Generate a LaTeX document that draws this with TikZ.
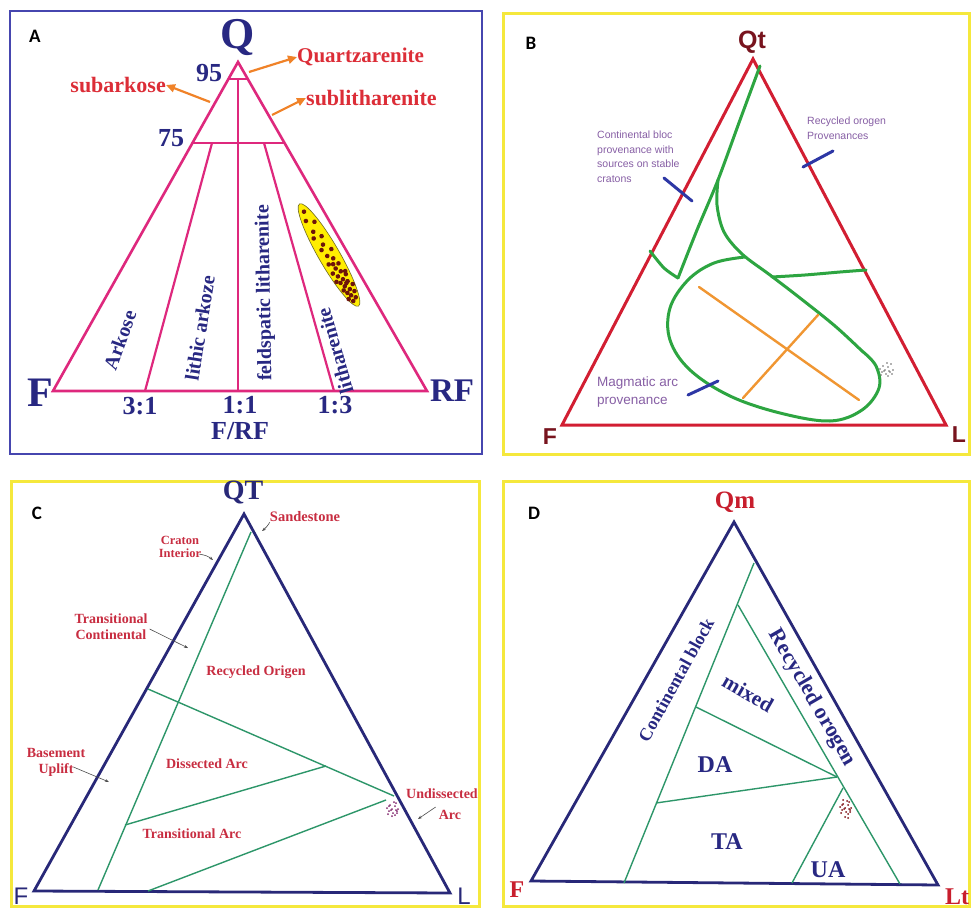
\documentclass[tikz,border=0pt]{standalone}
\usepackage{fontspec}
\setmainfont{Liberation Serif}
\newfontfamily\sansf{Liberation Sans}
\newfontfamily\carl{Carlito}
\usetikzlibrary{arrows.meta}
\definecolor{frameA}{RGB}{70,70,175}
\definecolor{magA}{RGB}{222,40,125}
\definecolor{navyA}{RGB}{40,40,130}
\definecolor{redA}{RGB}{220,45,55}
\definecolor{orA}{RGB}{240,130,40}
\definecolor{yel}{RGB}{245,232,60}
\definecolor{redB}{RGB}{210,30,50}
\definecolor{darkredB}{RGB}{120,20,30}
\definecolor{greenB}{RGB}{45,165,65}
\definecolor{orB}{RGB}{240,150,50}
\definecolor{blueB}{RGB}{45,55,165}
\definecolor{purB}{RGB}{135,95,165}
\definecolor{navyC}{RGB}{40,40,120}
\definecolor{tealC}{RGB}{45,150,105}
\definecolor{redC}{RGB}{200,45,65}
\definecolor{redD}{RGB}{200,30,45}
\definecolor{dotA}{RGB}{110,20,10}
\definecolor{dotP}{RGB}{130,40,110}
\newcommand{\fsz}[1]{\fontsize{#1}{#1}\selectfont}
\begin{document}
\begin{tikzpicture}[x=1pt,y=-1pt,
  panellab/.style={font=\carl\bfseries\fsz{19}, text=black, inner sep=0},
  triA/.style={magA, line width=2.6, line join=miter},
  txtA/.style={text=navyA, font=\bfseries\fsz{#1}, inner sep=0},
  redlabA/.style={text=redA, font=\bfseries\fsz{#1}, inner sep=0},
  orarrow/.style={orA, line width=2.2, -{Triangle[length=9pt,width=8pt]}},
  triB/.style={redB, line width=3, line join=miter},
  grn/.style={greenB, line width=3, line cap=round, line join=round},
  orln/.style={orB, line width=2.4, line cap=round},
  tick/.style={blueB, line width=3, line cap=round},
  purtxt/.style={text=purB, font=\sansf\fsz{#1}, inner sep=0, align=left},
  triC/.style={navyC, line width=2.8, line join=miter},
  tln/.style={tealC, line width=1.4},
  redtxt/.style={text=redC, font=\bfseries\fsz{#1}, inner sep=0, align=center},
  smallarr/.style={black!70, line width=0.6, -{Stealth[length=4pt,width=3pt]}},
  txtD/.style={text=navyA, font=\bfseries\fsz{#1}, inner sep=0},
]
\useasboundingbox (0,0) rectangle (971,909);
\fill[white] (0,0) rectangle (971,909);

% ---------------- frames
\draw[frameA, line width=2] (10,11) rectangle (482,454);
\draw[yel, line width=3] (503,14) rectangle (969,454);
\draw[yel, line width=3] (11,481) rectangle (479,906);
\draw[yel, line width=3] (503,481) rectangle (969,906);

% ================= PANEL A
\node[panellab] (labA) at (35,36) {A};
\coordinate (AQ) at (238,62);
\coordinate (AF) at (53,391);
\coordinate (ARF) at (427,391);
\coordinate (A95l) at (228.4,79);
\coordinate (A95r) at (247.8,79);
\coordinate (A95m) at (238,79);
\coordinate (A75l) at (192.5,143);
\coordinate (A75r) at (284.5,143);
\coordinate (A75a) at (212,143);
\coordinate (A75b) at (264,143);
\coordinate (A31) at (145,391);
\coordinate (A11) at (238,391);
\coordinate (A13) at (334,391);
\draw[triA] (AQ) -- (AF) -- (ARF) -- cycle;
\draw[magA, line width=2.2] (A95l) -- (A95r);
\draw[magA, line width=2.2] (A75l) -- (A75r);
\draw[magA, line width=2.2] (A95m) -- (A11);
\draw[magA, line width=2.2] (A75a) -- (A31);
\draw[magA, line width=2.2] (A75b) -- (A13);
% ellipse with points
\begin{scope}[shift={(329,255)}, rotate=-60]
  \draw[fill=yellow!95!orange, draw=olive!70!black, line width=0.6] (0,0) ellipse [x radius=59, y radius=10.5];
  \foreach \u/\v in {-50/0,-41/3,-36/-4,-28/2,-22/5,-20/-3,-12/0,-8/4,-4/-5,0/2,5/-2,8/5,12/-4,15/1,18/6,20/-2,23/3,25/-5,28/0,30/4,32/-3,35/2,37/-6,38/5,40/-1,42/3,44/-4,46/1,48/5,50/-2,52/2,27/7,33/-1,22/-6,10/1}
    \fill[dotA] (\u,\v) circle (2.3);
\end{scope}
\node[txtA=44] (Qa) at (238,38) {Q};
\node[txtA=42] (Fa) at (40,393) {F};
\node[txtA=33] (RFa) at (452,391) {RF};
\node[txtA=26] (n95) at (209,73) {95};
\node[txtA=26] (n75) at (171,138) {75};
\node[txtA=26] (n31) at (140,406) {3:1};
\node[txtA=26] (n11) at (240,405) {1:1};
\node[txtA=26] (n13) at (335,405) {1:3};
\node[txtA=26] (nFRF) at (240,431) {F/RF};
\node[txtA=20, rotate=70] (arkose) at (120,340) {Arkose};
\node[txtA=20, rotate=81] (lithark) at (200,328) {lithic arkoze};
\node[txtA=20, rotate=91] (feldlit) at (265,293) {feldspatic litharenite};
\node[txtA=20, rotate=106] (lithar) at (335,351) {litharenite};
\node[redlabA=21, anchor=west] (quartz) at (297,57) {Quartzarenite};
\node[redlabA=22, anchor=east] (subark) at (166,85) {subarkose};
\node[redlabA=22, anchor=west] (sublit) at (306,98) {sublitharenite};
\coordinate (qs) at (249,72);
\coordinate (ss) at (210,102);
\coordinate (ls) at (272,115);
\draw[orarrow] (qs) -- (quartz.west);
\draw[orarrow] (ss) -- (subark.east);
\draw[orarrow] (ls) -- (sublit.west);

% ================= PANEL B
\node[panellab] (labB) at (531,43) {B};
\coordinate (BQ) at (753,59);
\coordinate (BF) at (562,425);
\coordinate (BL) at (946,425);
\draw[triB] (BQ) -- (BF) -- (BL) -- cycle;
\node[text=darkredB, font=\sansf\bfseries\fsz{25}, inner sep=0] (Qtb) at (752,42) {Qt};
\node[text=darkredB, font=\sansf\bfseries\fsz{23}, inner sep=0] (Fb) at (550,437) {F};
\node[text=darkredB, font=\sansf\bfseries\fsz{23}, inner sep=0] (Lb) at (959,435) {L};
% green boundaries
\draw[grn] plot[smooth, tension=0.5] coordinates {(760,66) (740,120) (718,180) (697,230) (678,278)};
\draw[grn] plot[smooth, tension=0.5] coordinates {(650,251) (664,268) (678,278)};
\draw[grn] plot[smooth, tension=0.55] coordinates {(718,180) (717,205) (724,232) (742,254) (770,275) (800,298) (835,326) (862,351)};
\draw[grn] plot[smooth, tension=0.5] coordinates {(772,277) (805,275) (840,272) (866,270)};
\draw[grn] plot[smooth, tension=0.6] coordinates {(745,257) (714,263) (688,280) (670,308) (670,340) (690,370) (730,396) (780,413) (830,421) (862,410) (879,388) (876,366) (862,351)};
% orange cross
\coordinate (o1a) at (699,287); \coordinate (o1b) at (859,400);
\coordinate (o2a) at (743,398); \coordinate (o2b) at (818,315);
\draw[orln] (o1a) -- (o1b);
\draw[orln] (o2a) -- (o2b);
% blue ticks
\coordinate (t1a) at (664,178); \coordinate (t1b) at (692,201);
\coordinate (t2a) at (803,167); \coordinate (t2b) at (833,151);
\coordinate (t3a) at (688,395); \coordinate (t3b) at (718,381);
\draw[tick] (t1a) -- (t1b);
\draw[tick] (t2a) -- (t2b);
\draw[tick] (t3a) -- (t3b);
\node[purtxt=10.5, anchor=north west] (contb) at (597,131) {Continental bloc\\[4pt]provenance with\\[4pt]sources on stable\\[4pt]cratons};
\node[purtxt=10.5, anchor=north west] (recb) at (807,117) {Recycled orogen\\[4pt]Provenances};
\node[purtxt=13.5, anchor=north west] (magb) at (597,377) {Magmatic arc\\[4pt]provenance};
\foreach \dx/\dy in {0/0,3/-3,-3/2,5/2,-2/-4,6/-6,1/4,-5/-1,8/0,3/6,-4/5,7/4,2/-7,-1/1,4/1}
  \fill[black!60] (885+\dx,370+\dy) circle (0.8);

% ================= PANEL C
\node[panellab] (labC) at (37,513) {C};
\coordinate (CQ) at (244,514);
\coordinate (CF) at (34,891);
\coordinate (CL) at (450,893);
\draw[triC] (CQ) -- (CF) -- (CL) -- cycle;
\node[text=navyC, font=\bfseries\fsz{28}, inner sep=0] (QTc) at (243,492) {QT};
\node[text=navyC, font=\sansf\fsz{24}, inner sep=0] (Fc) at (21,896) {F};
\node[text=navyC, font=\sansf\fsz{24}, inner sep=0] (Lc) at (464,896) {L};
\coordinate (c1a) at (251,532); \coordinate (c1b) at (98,890);
\coordinate (c2a) at (148,689); \coordinate (c2b) at (394,796);
\coordinate (c3a) at (326,766); \coordinate (c3b) at (125,825);
\coordinate (c4a) at (386,800); \coordinate (c4b) at (148,891);
\draw[tln] (c1a) -- (c1b);
\draw[tln] (c2a) -- (c2b);
\draw[tln] (c3a) -- (c3b);
\draw[tln] (c4a) -- (c4b);
\node[redtxt=14.5] (sand) at (305,517) {Sandestone};
\node[redtxt=12.5] (crat) at (180,547) {Craton\\[1pt]Interior};
\node[redtxt=14] (trco) at (111,627) {Transitional\\[2pt]Continental};
\node[redtxt=14] (reco) at (256,672) {Recycled Origen};
\node[redtxt=14] (base) at (56,762) {Basement\\[2pt]Uplift};
\node[redtxt=14] (diss) at (207,764) {Dissected Arc};
\node[redtxt=14] (tran) at (192,834) {Transitional Arc};
\node[redtxt=14, anchor=west] (undi) at (406,794) {Undissected};
\node[redtxt=14] (arcc) at (450,815) {Arc};
\coordinate (sa1) at (262,531);
\coordinate (ca1) at (213,560);
\coordinate (ta1) at (188,648);
\coordinate (ba1) at (109,782);
\coordinate (ua1) at (418,819);
\draw[smallarr] (sand.south west) to[bend left=10] (sa1);
\draw[smallarr] (crat.south east) ++(-2,-4) to[bend left=15] (ca1);
\draw[smallarr] (trco.east) ++(2,2) -- (ta1);
\draw[smallarr] (base.east) ++(-12,5) -- (ba1);
\draw[smallarr] (arcc.west) ++(-3,-8) -- (ua1);
\foreach \dx/\dy in {0/0,3/-3,-3/2,5/2,-2/-4,4/-6,1/4,-5/-1,6/0,3/6,-4/5,5/4,2/-7,-1/1,4/1,-3/-3,0/7}
  \fill[dotP] (392+\dx,809+\dy) circle (1);
\draw[yel, line width=3] (479,760) -- (479,840);

% ================= PANEL D
\node[panellab] (labD) at (534,513) {D};
\coordinate (DQ) at (734,522);
\coordinate (DF) at (531,881);
\coordinate (DL) at (938,885);
\draw[triC] (DQ) -- (DF) -- (DL) -- cycle;
\node[text=redD, font=\bfseries\fsz{25}, inner sep=0] (Qmd) at (735,502) {Qm};
\node[text=redD, font=\bfseries\fsz{24}, inner sep=0] (Fd) at (517,890) {F};
\node[text=redD, font=\bfseries\fsz{24}, inner sep=0] (Ltd) at (957,897) {Lt};
\coordinate (d1a) at (754,563); \coordinate (d1b) at (624,883);
\coordinate (d2a) at (738,605); \coordinate (d2b) at (900,884);
\coordinate (d3a) at (696,707); \coordinate (d3b) at (837,777);
\coordinate (d4a) at (656,803);
\coordinate (d5a) at (843,788); \coordinate (d5b) at (792,883);
\draw[tln] (d1a) -- (d1b);
\draw[tln] (d2a) -- (d2b);
\draw[tln] (d3a) -- (d3b);
\draw[tln] (d4a) -- (d3b);
\draw[tln] (d5a) -- (d5b);
\node[txtD=18, rotate=61] (contd) at (676,680) {Continental block};
\node[txtD=22, rotate=-60] (recd) at (812,698) {Recycled orogen};
\node[txtD=21, rotate=-30] (mixd) at (748,693) {mixed};
\node[txtD=24] (dad) at (715,765) {DA};
\node[txtD=24] (tad) at (727,842) {TA};
\node[txtD=24] (uad) at (828,870) {UA};
\foreach \dx/\dy in {0/0,3/-3,-3/2,5/2,-2/-4,4/-6,1/4,-5/-1,6/0,3/6,-4/5,5/4,2/-7,-1/1,4/1,-3/-3,0/9,3/10,-2/-8}
  \fill[dotA!80!purple] (845+\dx,808+\dy) circle (1);
\end{tikzpicture}
\end{document}
